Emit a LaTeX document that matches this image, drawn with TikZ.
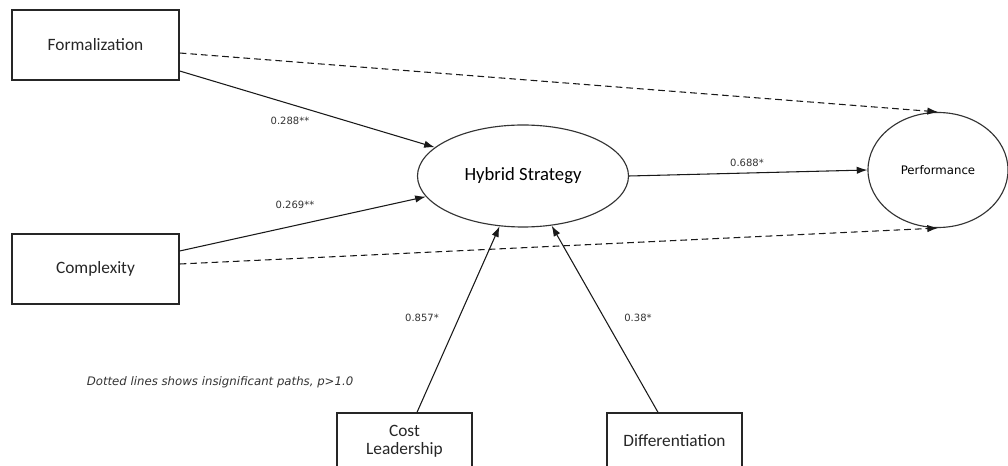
\documentclass[tikz,border=0pt]{standalone}
\usepackage{fontspec}
\setmainfont{Carlito}
\newfontfamily\dejavu{DejaVu Sans}
\usetikzlibrary{arrows.meta,calc,shapes.geometric}
\begin{document}
\begin{tikzpicture}[x=0.75pt,y=-0.75pt,
  construct/.style={rectangle,draw=black!85,line width=1pt,minimum width=125.25pt,minimum height=52.5pt,font=\fontsize{13}{15}\selectfont,text=black!85},
  strategy/.style={rectangle,draw=black!85,line width=1pt,minimum width=101.25pt,minimum height=42pt,align=center,font=\fontsize{13}{13.5}\selectfont,text=black!85},
  latent/.style={ellipse,draw=black!80,line width=0.85pt,inner sep=0pt},
  coef/.style={font=\dejavu\fontsize{7.5}{9}\selectfont,text=black!80},
  sig/.style={draw=black!90,line width=0.8pt,-{Latex[length=8pt,width=5.5pt]}},
  insig/.style={sig,dash pattern=on 5pt off 3pt}]
\useasboundingbox (0,0) rectangle (1008,466);
\node[construct] (form) at (95.5,45) {Formalization};
\node[construct] (cplx) at (95.5,269) {Complexity};
\node[latent,minimum width=158.25pt,minimum height=76.5pt,font=\fontsize{14}{16}\selectfont] (hyb) at (523,176) {Hybrid Strategy};
\node[latent,minimum width=105pt,minimum height=86.25pt,font=\dejavu\fontsize{8.8}{10}\selectfont] (perf) at (938,170) {Performance};
\node[strategy] (cost) at (404.5,441) {Cost\\Leadership};
\node[strategy] (diff) at (674.5,441) {Differentiation};
\node[coef] (c1) at (290,121) {0.288**};
\node[coef] (c2) at (295,205) {0.269**};
\node[coef] (c3) at (747,163) {0.688*};
\node[coef] (c4) at (422,318) {0.857*};
\node[coef] (c5) at (638,318) {0.38*};
\node[font=\dejavu\itshape\fontsize{8.8}{10}\selectfont,text=black!80] (note) at (220,382) {Dotted lines shows insignificant paths, p>1.0};
\path ($(form.east)+(0,26)$) edge[sig] (hyb.162);
\path ($(cplx.east)+(0,-18)$) edge[sig] (hyb.192);
\path ($(cost.north)+(12.5,0)$) edge[sig] (hyb.245);
\path ($(diff.north)+(-16.5,0)$) edge[sig] (hyb.300);
\path (hyb.east) edge[sig] (perf.west);
\path ($(form.east)+(0,8)$) edge[insig] (perf.north);
\path ($(cplx.east)+(0,-5)$) edge[insig] (perf.south);
\end{tikzpicture}
\end{document}
